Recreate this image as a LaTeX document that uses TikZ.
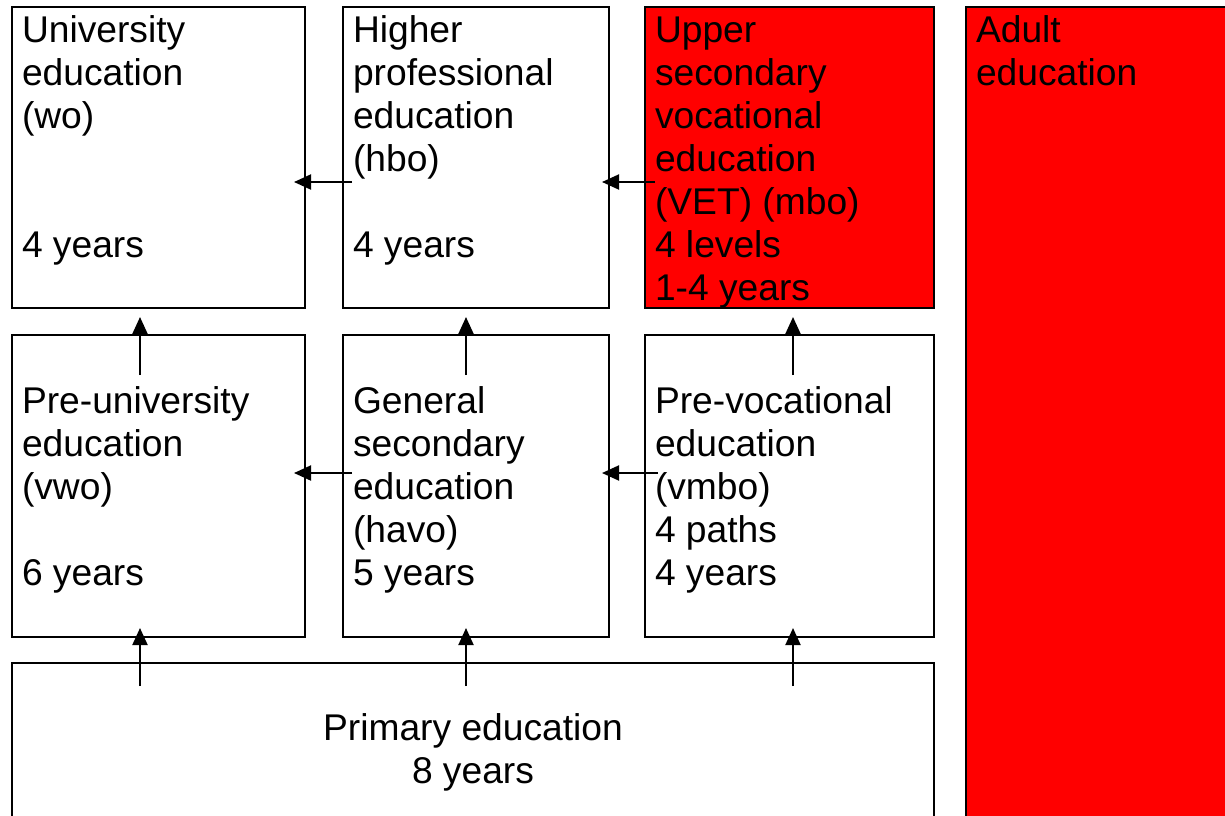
\documentclass[tikz,border=0pt]{standalone}
\usepackage{fontspec}
\setmainfont{Liberation Sans}
\usetikzlibrary{arrows.meta,calc}
\begin{document}
\begin{tikzpicture}[x=1pt,y=-1pt,
  box/.style={draw=black, line width=2pt, fill=white, inner sep=0pt, outer sep=0pt, anchor=north west},
  redbox/.style={box, fill=red},
  txt/.style={font=\fontsize{37.2}{43}\selectfont, align=left, inner sep=0pt, outer sep=0pt, anchor=north west},
  ctxt/.style={txt, align=center, anchor=north},
  arr/.style={line width=2pt, -{Triangle[length=17pt,width=15pt]}}]
\useasboundingbox (0,0) rectangle (1225,815);
\clip (0,0) rectangle (1225,815);
\fill[white] (0,0) rectangle (1225,815);
% boxes
\node[box, minimum width=293pt, minimum height=301pt] (wo) at (12,7) {};
\node[box, minimum width=266pt, minimum height=301pt] (hbo) at (343,7) {};
\node[redbox, minimum width=289pt, minimum height=301pt] (mbo) at (645,7) {};
\node[redbox, minimum width=300pt, minimum height=850pt] (adult) at (966,7) {};
\node[box, minimum width=293pt, minimum height=302pt] (vwo) at (12,335) {};
\node[box, minimum width=266pt, minimum height=302pt] (havo) at (343,335) {};
\node[box, minimum width=289pt, minimum height=302pt] (vmbo) at (645,335) {};
\node[box, minimum width=922pt, minimum height=200pt] (primary) at (12,663) {};
% texts
\node[txt] (wot) at ($(wo.north west)+(10,5.4)$) {\strut University\\\strut education\\\strut (wo)\\\strut\\\strut\\\strut 4 years};
\node[txt] (hbot) at ($(hbo.north west)+(10,5.4)$) {\strut Higher\\\strut professional\\\strut education\\\strut (hbo)\\\strut\\\strut 4 years};
\node[txt] (mbot) at ($(mbo.north west)+(10,5.4)$) {\strut Upper\\\strut secondary\\\strut vocational\\\strut education\\\strut (VET) (mbo)\\\strut 4 levels\\\strut 1-4 years};
\node[txt] (adultt) at ($(adult.north west)+(10,5.4)$) {\strut Adult\\\strut education};
\node[txt] (vwot) at ($(vwo.north west)+(10,47.9)$) {\strut Pre-university\\\strut education\\\strut (vwo)\\\strut\\\strut 6 years};
\node[txt] (havot) at ($(havo.north west)+(10,47.9)$) {\strut General\\\strut secondary\\\strut education\\\strut (havo)\\\strut 5 years};
\node[txt] (vmbot) at ($(vmbo.north west)+(10,47.9)$) {\strut Pre-vocational\\\strut education\\\strut (vmbo)\\\strut 4 paths\\\strut 4 years};
\node[ctxt] (primaryt) at ($(primary.north)+(0,46.9)$) {\strut Primary education\\\strut 8 years};
% horizontal arrows
\draw[arr] ($(hbo.north west)+(9,175)$) -- ($(wo.north east)+(-11,175)$);
\draw[arr] ($(mbo.north west)+(10,175)$) -- ($(hbo.north east)+(-7,175)$);
\draw[arr] ($(havo.north west)+(9,138)$) -- ($(vwo.north east)+(-11,138)$);
\draw[arr] ($(vmbo.north west)+(13,138)$) -- ($(havo.north east)+(-7,138)$);
% vertical arrows row 2 -> row 1
\draw[arr] ($(vwo.north west)+(128,40)$) -- ($(wo.south west)+(128,9)$);
\draw[arr] ($(havo.north west)+(123,40)$) -- ($(hbo.south west)+(123,9)$);
\draw[arr] ($(vmbo.north west)+(148,40)$) -- ($(mbo.south west)+(148,9)$);
% vertical arrows row 3 -> row 2
\draw[arr] ($(primary.north west)+(128,23)$) -- ($(vwo.south west)+(128,-9)$);
\draw[arr] ($(primary.north west)+(454,23)$) -- ($(havo.south west)+(123,-9)$);
\draw[arr] ($(primary.north west)+(781,23)$) -- ($(vmbo.south west)+(148,-9)$);
\end{tikzpicture}
\end{document}
